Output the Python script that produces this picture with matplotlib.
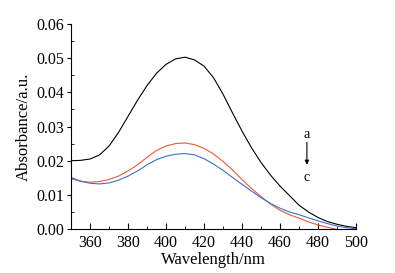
import numpy as np
import matplotlib.pyplot as plt
from matplotlib.ticker import MultipleLocator

plt.rcParams["font.family"] = ["Liberation Serif", "DejaVu Serif"]

# wavelength grid (nm)
wavelength = [350, 355, 360, 365, 370, 375, 380, 385, 390, 395, 400, 405, 410, 415, 420,
              425, 430, 435, 440, 445, 450, 455, 460, 465, 470, 475, 480, 485, 490, 495, 500]

abs_a = [0.0200, 0.0201, 0.0205, 0.0217, 0.0243, 0.0283, 0.0330, 0.0377, 0.0420, 0.0456,
         0.0482, 0.0498, 0.0503, 0.0495, 0.0477, 0.0443, 0.0395, 0.0340, 0.0287, 0.0238,
         0.0195, 0.0158, 0.0126, 0.0098, 0.0070, 0.0050, 0.0034, 0.0022, 0.0014, 0.0008,
         0.0004]

abs_b = [0.0147, 0.0140, 0.0137, 0.0139, 0.0145, 0.0155, 0.0170, 0.0188, 0.0210, 0.0230,
         0.0243, 0.0250, 0.0252, 0.0247, 0.0236, 0.0220, 0.0198, 0.0173, 0.0145, 0.0119,
         0.0095, 0.0073, 0.0055, 0.0042, 0.0032, 0.0021, 0.0012, 0.0005, -0.0001, -0.0006,
         -0.0010]

abs_c = [0.0151, 0.0140, 0.0134, 0.0132, 0.0135, 0.0143, 0.0155, 0.0170, 0.0188, 0.0203,
         0.0213, 0.0219, 0.0221, 0.0217, 0.0206, 0.0190, 0.0172, 0.0151, 0.0131, 0.0111,
         0.0092, 0.0075, 0.0061, 0.0050, 0.0042, 0.0033, 0.0024, 0.0016, 0.0009, 0.0004,
         0.0001]

fig = plt.figure(figsize=(3.95, 2.73), dpi=100)
ax = fig.add_axes([0.18, 0.161, 0.721, 0.751])

line_kw = dict(linewidth=0.8, solid_joinstyle="round", solid_capstyle="round")
ax.plot(wavelength, abs_a, color="black", **line_kw)
ax.plot(wavelength, abs_b, color="#f2583a", **line_kw)
ax.plot(wavelength, abs_c, color="#3a6fd0", **line_kw)

ax.set_xlim(350, 500)
ax.set_ylim(0, 0.06)
ax.set_xticks([360, 380, 400, 420, 440, 460, 480, 500])
ax.xaxis.set_minor_locator(MultipleLocator(10))
ax.yaxis.set_major_locator(MultipleLocator(0.01))
ax.yaxis.set_minor_locator(MultipleLocator(0.005))
ax.yaxis.set_major_formatter(plt.FormatStrFormatter("%.2f"))

ax.spines["top"].set_visible(False)
ax.spines["right"].set_visible(False)
ax.tick_params(axis="x", which="both", direction="in", labelsize=11.5, pad=4)
ax.tick_params(axis="x", which="major", length=4)
ax.tick_params(axis="x", which="minor", length=2.5)
ax.tick_params(axis="y", which="major", direction="out", length=3, labelsize=11.5, pad=2)
ax.tick_params(axis="y", which="minor", direction="in", length=2.5)

ax.set_xlabel("Wavelength/nm", fontsize=12, labelpad=1)
ax.set_ylabel("Absorbance/a.u.", fontsize=12, labelpad=3)

# a -> c trend marker
ax.text(474.2, 0.0277, "a", fontsize=10, ha="center", va="center")
ax.text(474.2, 0.0152, "c", fontsize=10, ha="center", va="center")
ax.annotate("", xy=(474.2, 0.0180), xytext=(474.2, 0.0262),
            arrowprops=dict(arrowstyle="-|>", color="black", lw=0.8, mutation_scale=6))

fig.savefig("out.png", dpi=100)
